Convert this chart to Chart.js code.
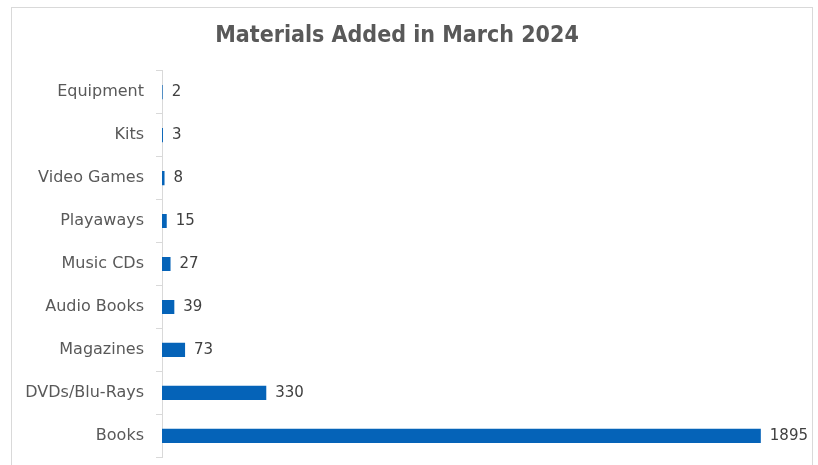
<!DOCTYPE html>
<html>
<head>
<meta charset="utf-8">
<script src="https://cdn.jsdelivr.net/npm/chart.js@4"></script>
<style>
  html, body { margin: 0; padding: 0; background: #fff; }
  #wrap { position: relative; width: 818px; height: 465px; overflow: hidden; }
  #frame { position: absolute; left: 11px; top: 7px; width: 800px; height: 480px; border: 1px solid #d9d9d9; }
  #chart { position: absolute; left: 0; top: 0; }
</style>
</head>
<body>
<div id="wrap">
  <div id="frame"></div>
  <canvas id="chart" width="818" height="479"></canvas>
</div>
<script>
const chartTitle = 'Materials Added in March 2024';
const categories = ['Equipment', 'Kits', 'Video Games', 'Playaways', 'Music CDs', 'Audio Books', 'Magazines', 'DVDs/Blu-Rays', 'Books'];
const added      = [2, 3, 8, 15, 27, 39, 73, 330, 1895];

const barBlue   = '#0563b8';
const axisGray  = '#d9d9d9';
const textGray  = '#595959';

// value labels at the end of each bar
const valueLabels = {
  id: 'valueLabels',
  afterDatasetsDraw(chart) {
    const { ctx } = chart;
    const meta = chart.getDatasetMeta(0);
    ctx.save();
    ctx.font = "15px 'DejaVu Sans', sans-serif";
    ctx.fillStyle = '#404040';
    ctx.textAlign = 'left';
    ctx.textBaseline = 'middle';
    meta.data.forEach((bar, i) => {
      ctx.fillText(String(added[i]), bar.x + 9, bar.y);
    });
    ctx.restore();
  }
};

new Chart(document.getElementById('chart'), {
  type: 'bar',
  plugins: [valueLabels],
  data: {
    labels: categories,
    datasets: [{
      data: added,
      backgroundColor: barBlue,
      borderWidth: 0,
      categoryPercentage: 1,
      barPercentage: 0.33
    }]
  },
  options: {
    indexAxis: 'y',
    responsive: false,
    animation: false,
    layout: { padding: { left: 0, right: 24, top: 0, bottom: 0 } },
    plugins: {
      legend: { display: false },
      tooltip: { enabled: false },
      title: {
        display: true,
        text: chartTitle,
        color: textGray,
        font: { family: "'DejaVu Sans Condensed', 'DejaVu Sans', sans-serif", size: 23, weight: 'bold' },
        padding: { top: 22, bottom: 21 }
      }
    },
    scales: {
      x: { display: false, min: 0, max: 2000 },
      y: {
        afterFit(scale) { scale.width = 162; },
        border: { display: true, color: axisGray, width: 1 },
        grid: { drawOnChartArea: false, drawTicks: true, tickLength: 6, color: axisGray, offset: true },
        ticks: { color: textGray, padding: 12, font: { family: "'DejaVu Sans', sans-serif", size: 16 } }
      }
    }
  }
});
</script>
</body>
</html>
